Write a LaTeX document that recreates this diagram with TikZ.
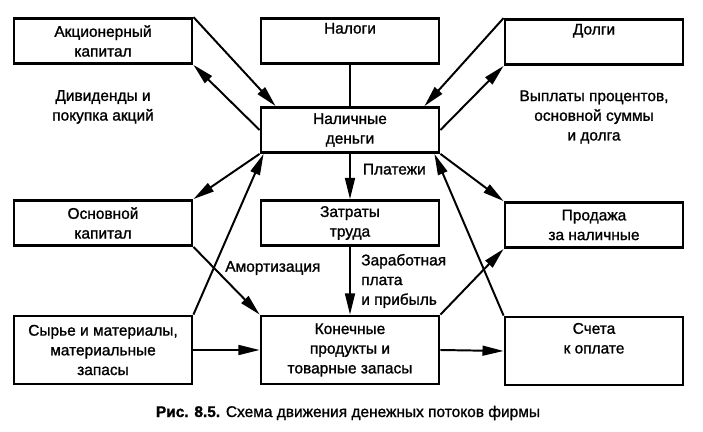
\documentclass[tikz,border=0pt]{standalone}
\usepackage{fontspec}
\setmainfont{Liberation Sans}
\newfontfamily\diafont{Liberation Sans}[FakeBold=1.2]
\usetikzlibrary{arrows.meta}

\begin{document}
\begin{tikzpicture}[x=0.025cm, y=-0.025cm,
    box/.style={draw, line width=2pt, minimum width=4.45cm, minimum height=1.125cm, align=center, inner sep=0pt},
    tallbox/.style={box, minimum height=1.7cm},
    flow/.style={line width=1.4pt},
    lbl/.style={align=center, inner sep=0pt},
    >={Triangle[length=15pt, width=7pt]},
    font=\diafont\fontsize{11}{14}\selectfont]
    \useasboundingbox (0,0) rectangle (703,432);
    % boxes
    \node [box] (akc) at (103,41) {Акционерный\\капитал};
    \node [box] (tax) at (350,41) {Налоги\\\strut};
    \node [box] (debt) at (594,42) {Долги\\\strut};
    \node [box] (cash) at (350,130) {Наличные\\деньги};
    \node [box] (fixc) at (103,223) {Основной\\капитал};
    \node [box] (labor) at (350,223) {Затраты\\труда};
    \node [box] (sale) at (594,225) {Продажа\\за наличные};
    \node [tallbox] (raw) at (103,350) {Сырье и материалы,\\материальные\\запасы};
    \node [tallbox] (prod) at (350,350) {Конечные\\продукты и\\товарные запасы};
    \node [tallbox] (pay) at (594,351) {Счета\\к оплате\\\strut};
    % texts
    \node at (103,107) [lbl] {Дивиденды и\\покупка акций};
    \node at (594,117) [lbl] {Выплаты процентов,\\основной суммы\\и долга};
    % flows
    \draw [flow, ->] (akc.north east) -- ([xshift=0.4cm]cash.north west);
    \draw [flow, ->] (cash.west) -- (akc.south east);
    \draw [flow] (tax.south) -- (cash.north);
    \draw [flow, ->] (debt.north west) -- ([xshift=-0.4cm]cash.north east);
    \draw [flow, ->] (cash.east) -- (debt.south west);
    \draw [flow, ->] (cash.south) -- node [anchor=west, lbl, xshift=0.3cm, yshift=-0.1cm, pos=0.25] {Платежи} (labor.north);
    \draw [flow, ->] (cash.south west) -- (fixc.north east);
    \draw [flow, ->] (raw.north east) -- ([xshift=0.1cm]cash.south west);
    \draw [flow, ->] (fixc.south east) -- (prod.north west);
    \node at (225,268) [anchor=west, lbl] {Амортизация};
    \draw [flow, ->] (raw.east) -- (prod.west);
    \draw [flow, ->] (labor.south) -- (prod.north);
    \node at (361,281) [anchor=west, lbl, align=left] {Заработная\\плата\\и прибыль};
    \draw [flow, ->] (prod.east) -- (pay.west);
    \draw [flow, ->] (prod.north east) -- (sale.south west);
    \draw [flow, ->] (pay.north west) -- ([xshift=-0.15cm]cash.south east);
    \draw [flow, ->] (cash.south east) -- (sale.north west);
    % caption
    \node at (348,413) [lbl] {\textbf{Рис. 8.5.} Схема движения денежных потоков фирмы};
\end{tikzpicture}
\end{document}
